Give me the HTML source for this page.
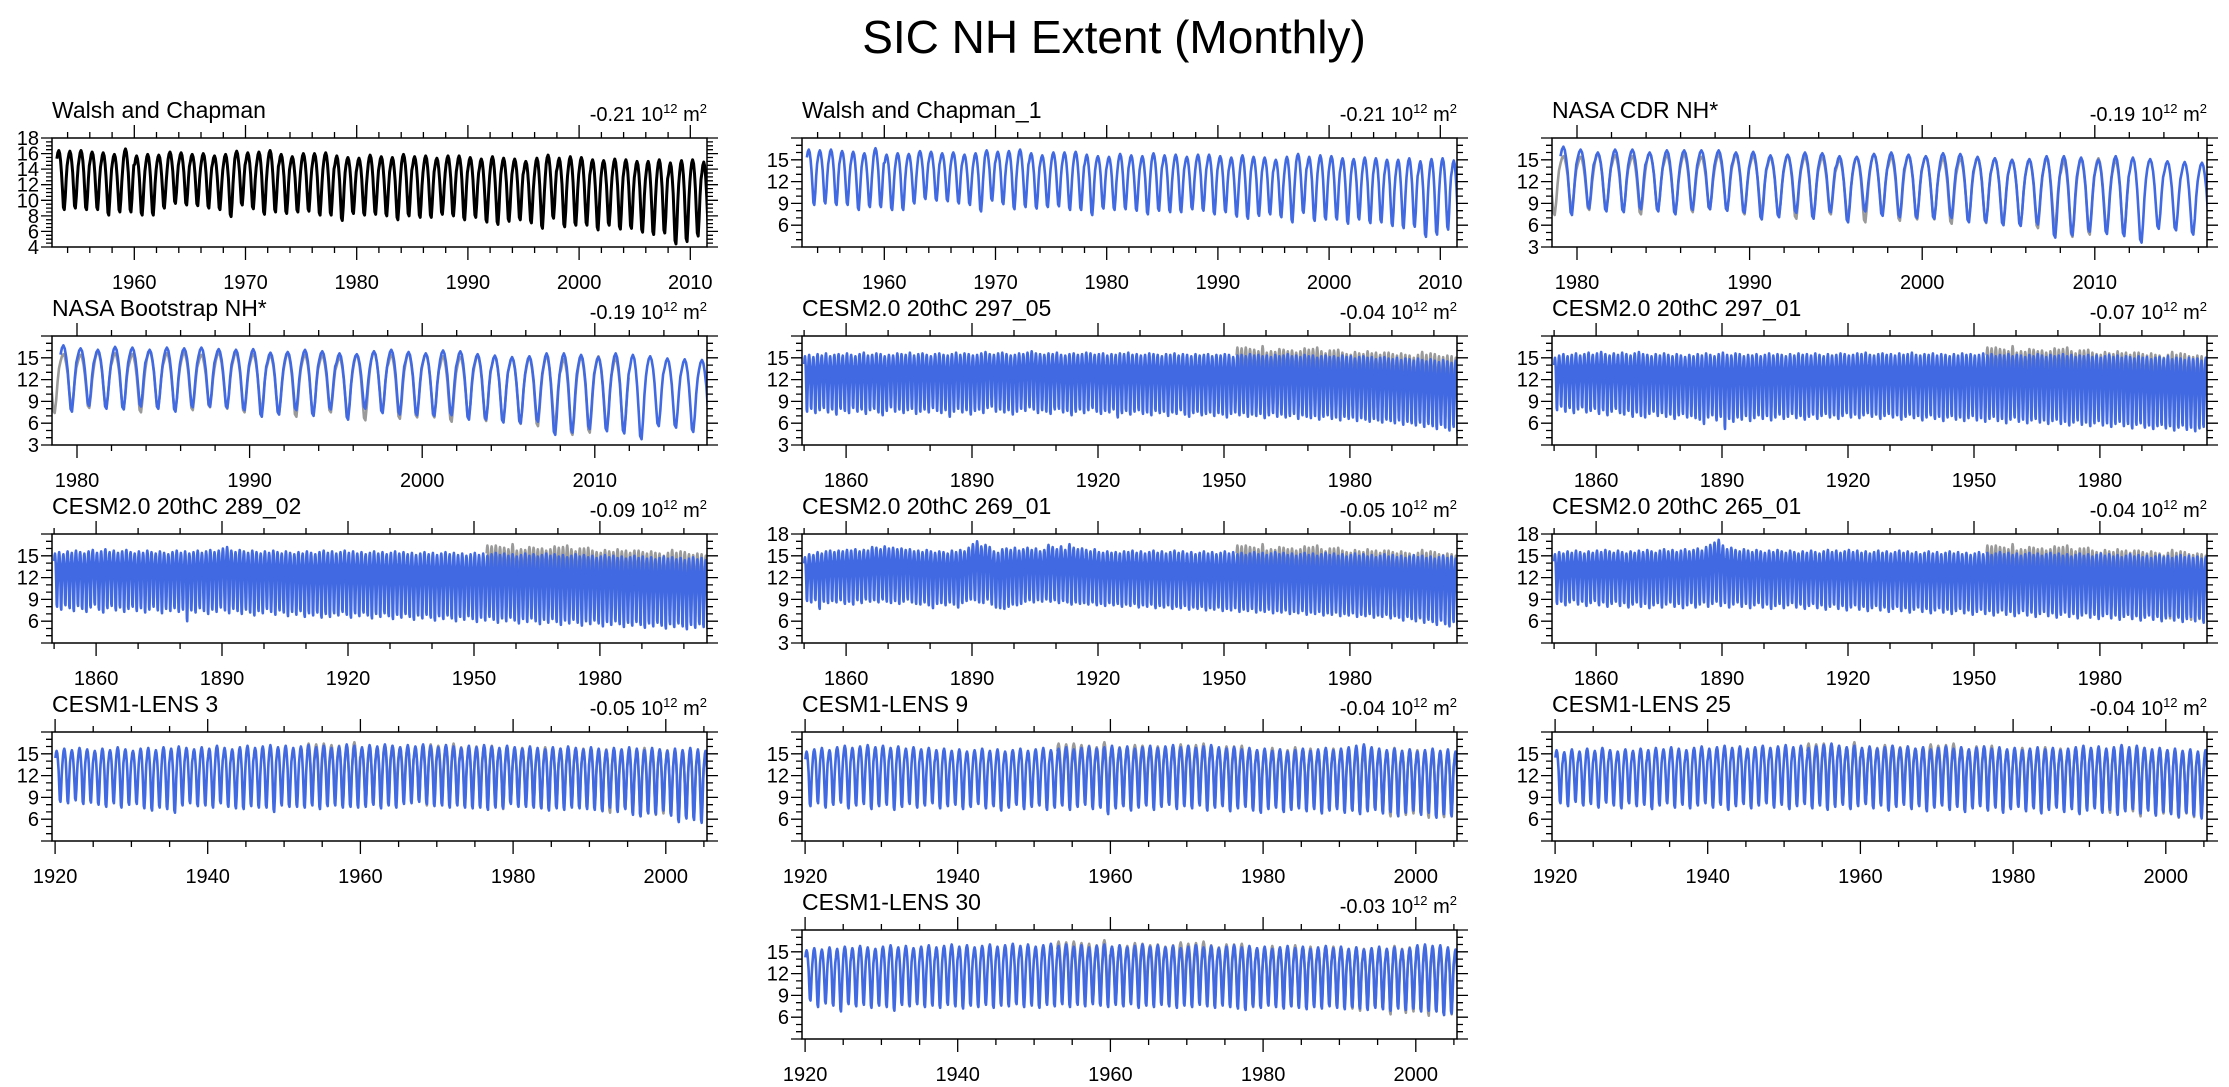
<!DOCTYPE html>
<html><head><meta charset="utf-8">
<style>
html,body{margin:0;padding:0;background:#fff;}
svg{display:block;font-family:"Liberation Sans",Arial,sans-serif;}
</style></head>
<body>
<svg id="fig" width="2229" height="1087" viewBox="0 0 2229 1087">
<text x="1114" y="53" text-anchor="middle" font-size="46">SIC NH Extent (Monthly)</text>
</svg>
<script>
// seasonal cycle fraction (Jan..Dec) between annual minimum and maximum
const seasonShape = [0.86,0.96,1.0,0.95,0.82,0.62,0.33,0.04,0.0,0.22,0.52,0.74];

const walshMax = [16.4,16.3,16.4,16.2,16.1,15.9,16.6,15.7,15.9,15.8,16.2,16.1,15.9,16,15.7,15.9,16.3,16.1,16.2,16.4,15.9,15.6,16,16,16.1,15.7,15.5,15.4,15.8,15.6,15.5,15.9,15.6,15.7,15.4,15.7,15.7,15.5,15.3,15.6,15.4,15.3,15,15.4,15.8,15.4,15.6,15.5,15.2,15.1,15.3,15.2,15,15,15.2,14.8,15.1,15.2,14.9];
const walshMin = [8.8,9,8.8,8.8,8.1,8.5,8.5,8.1,8.1,9,9.6,9.4,9.3,9,8.8,7.9,9.4,8.9,8.2,8.5,8.3,8.5,8.6,8.1,8.1,7.4,8.3,8.1,8.2,8,7.5,8,7.8,7.8,8.2,8,7.5,7.8,7.2,6.9,7.3,7.5,7.1,6.4,7.7,6.6,6.8,6.8,6.2,6.8,6.3,6.4,5.9,5.6,5.8,4.4,4.7,5.4,4.8];

const cdrMax = [16.8,16.4,16,16.4,16.4,16,16.3,16.3,16.3,16.3,16,16.1,15.6,15.7,16,15.9,15.5,15.4,15.8,16,15.7,15.5,15.9,15.8,15.4,15.2,15,15.1,15.5,15.5,15.3,15,15.5,15.3,15.1,14.8,14.7,14.6];
const cdrMin = [7.4,8.3,7.9,7.8,8.2,7.9,7.5,8.1,8.2,8,7.7,6.8,7.1,7.7,6.9,7.8,6.4,7.9,7.3,7.1,7,6.9,7,6.4,6.4,6,5.9,6.1,4.3,4.6,5.1,4.8,4.5,3.6,5.5,5.3,4.7,5.2];
const bootMax = [16.7,16.3,16.1,16.5,16.4,16.1,16.4,16.3,16.4,16.2,16.1,16.2,15.7,15.8,16.1,15.9,15.6,15.5,15.9,16.1,15.8,15.6,16,15.9,15.5,15.3,15.1,15.2,15.6,15.6,15.4,15.1,15.6,15.4,15.2,14.9,14.8,14.7];
const bootMin = [7.6,8.4,8,7.9,8.3,8,7.6,8.2,8.3,8.1,7.8,6.9,7.2,7.8,7,7.9,6.5,8,7.4,7.2,7.1,7,7.1,6.5,6.5,6.1,6,6.2,4.4,4.7,5.2,4.9,4.6,3.8,5.6,5.4,4.8,5.3];

const c29705Max = [15.2,15.4,15.1,15.5,15.3,15.6,15.2,15.4,15.5,15.3,15.6,15.4,15.2,15.5,15.7,15.3,15.4,15.6,15.5,15.2,15.4,15.3,15.6,15.5,15.4,15.7,15.3,15.5,15.6,15.4,15.2,15.5,15.6,15.4,15.3,15.5,15.7,15.4,15.6,15.5,15.3,15.4,15.6,15.8,15.5,15.4,15.6,15.7,15.5,15.3,15.4,15.6,15.5,15.7,15.9,15.6,15.5,15.4,15.6,15.5,15.7,15.4,15.3,15.5,15.6,15.4,15.5,15.7,15.6,15.4,15.5,15.6,15.3,15.5,15.4,15.6,15.5,15.7,15.4,15.5,15.3,15.4,15.6,15.5,15.4,15.2,15.5,15.4,15.6,15.3,15.5,15.4,15.2,15.5,15.3,15.4,15.5,15.2,15.4,15.3,15.5,15.4,15.1,15.3,15.4,15.2,15.5,15.3,15.4,15.2,15.3,15.1,15.4,15.2,15.3,15.5,15.2,15.3,15.1,15.4,15.2,15.3,15.0,15.2,15.3,15.1,15.2,15.0,15.3,15.1,15.2,14.9,15.1,15.2,15.0,15.1,14.8,15.0,15.1,14.9,14.8,15.0,14.7,14.9,14.8,14.6,14.9,14.7,14.5,14.8,14.6,14.4,14.7,14.5,14.3,14.6];
const c29705Min = [7.6,8.0,7.4,7.8,8.1,7.5,7.9,7.2,8.0,7.7,7.4,8.1,7.6,7.9,7.3,7.8,8.0,7.5,7.1,7.7,8.2,7.6,7.9,7.4,7.8,8.0,7.3,7.6,7.9,7.5,8.1,7.7,7.4,7.8,6.9,7.6,8.0,7.5,7.8,7.2,7.7,7.9,7.4,8.1,8.3,7.6,7.9,7.5,7.8,7.2,7.6,8.0,7.7,8.2,7.9,7.4,7.8,7.6,7.3,7.9,8.0,7.5,7.7,7.1,7.6,7.9,7.4,7.8,8.1,7.6,7.3,7.7,7.5,7.9,6.8,7.4,7.7,7.2,7.6,7.8,7.3,7.5,7.1,7.7,7.4,7.6,7.0,7.5,7.3,7.8,7.2,6.9,7.4,7.6,7.1,7.3,7.5,7.0,7.4,7.2,6.8,7.3,7.5,7.1,7.4,6.9,7.2,7.0,7.3,6.7,7.1,7.4,6.9,7.2,6.8,7.0,7.3,6.6,7.1,6.9,6.7,7.0,6.5,6.9,7.1,6.6,6.8,6.4,6.9,6.6,6.8,6.3,6.7,6.5,6.2,6.6,6.4,6.1,6.5,6.3,6.0,6.4,5.8,6.2,6.0,5.7,6.1,5.5,5.9,5.6,5.2,5.8,5.4,5.0,5.5,4.3];

const c29701Max = [15.0,15.3,15.5,15.2,15.4,15.6,15.3,15.5,15.7,15.4,15.6,15.8,15.5,15.3,15.6,15.4,15.7,15.5,15.3,15.6,15.8,15.5,15.4,15.2,15.5,15.3,15.6,15.4,15.2,15.5,15.3,15.1,15.4,15.2,15.5,15.3,15.6,15.4,15.2,15.5,15.7,15.4,15.3,15.6,15.5,15.2,15.4,15.3,15.5,15.2,15.4,15.6,15.3,15.5,15.4,15.2,15.5,15.3,15.6,15.4,15.5,15.3,15.6,15.4,15.2,15.5,15.3,15.4,15.6,15.5,15.3,15.4,15.6,15.5,15.7,15.4,15.3,15.5,15.6,15.4,15.5,15.3,15.6,15.4,15.5,15.7,15.4,15.3,15.5,15.4,15.6,15.3,15.5,15.4,15.2,15.5,15.3,15.6,15.4,15.5,15.3,15.4,15.6,15.3,15.5,15.2,15.4,15.3,15.5,15.2,15.4,15.3,15.1,15.4,15.2,15.5,15.3,15.1,15.4,15.2,15.3,15.5,15.2,15.4,15.1,15.3,15.2,15.4,15.1,15.3,15.0,15.2,15.4,15.1,15.3,15.0,15.2,15.1,14.9,15.2,15.0,15.1,14.8,15.0,15.1,14.9,15.2,14.8,15.0,14.9,14.7,15.0,14.8,14.9,14.6,15.0];
const c29701Min = [7.8,8.3,7.6,8.1,7.4,7.9,8.2,7.5,7.7,8.0,7.3,7.8,7.1,7.6,8.0,7.4,7.2,7.7,6.9,7.5,7.0,6.8,7.3,7.6,7.0,7.4,6.9,7.2,6.6,7.1,7.3,6.8,7.0,6.7,6.5,5.9,6.8,7.1,6.4,6.9,5.2,6.6,6.2,6.8,6.5,7.0,6.3,6.7,7.1,6.6,7.0,6.4,6.8,7.2,6.6,6.9,7.3,6.7,7.0,6.5,6.9,7.2,6.6,7.0,7.3,6.8,7.1,6.6,7.0,7.4,6.8,7.2,6.7,7.1,7.4,6.9,7.2,6.6,7.0,7.3,6.8,7.1,6.5,6.9,7.2,6.7,7.0,6.4,6.8,7.1,6.6,6.9,6.3,6.8,7.0,6.5,6.8,6.3,6.7,7.0,6.4,6.7,6.2,6.6,6.9,6.3,6.6,6.0,6.5,6.8,6.2,6.5,6.0,6.4,6.6,6.1,6.4,5.9,6.3,6.5,5.9,6.2,5.7,6.1,6.4,5.8,6.1,5.6,6.0,6.3,5.7,6.0,5.5,5.9,6.2,5.6,5.9,5.3,5.8,6.0,5.4,5.7,5.2,5.6,5.8,5.3,5.6,5.0,5.4,5.7,5.1,5.4,4.9,5.3,5.5,4.8];

const c28902Max = [15.3,15.5,15.2,15.6,15.4,15.7,15.5,15.3,15.6,15.8,15.4,15.6,15.9,15.5,15.7,15.4,15.6,15.8,15.5,15.3,15.6,15.4,15.7,15.5,15.3,15.6,15.4,15.2,15.5,15.7,15.4,15.6,15.3,15.5,15.7,15.4,15.6,15.8,15.5,15.7,16.0,16.2,15.7,15.5,15.8,15.6,15.4,15.7,15.5,15.3,15.6,15.4,15.7,15.5,15.3,15.6,15.4,15.2,15.5,15.3,15.6,15.4,15.2,15.5,15.7,15.4,15.6,15.3,15.5,15.7,15.4,15.6,15.3,15.5,15.2,15.4,15.6,15.3,15.5,15.2,15.4,15.6,15.3,15.5,15.2,15.4,15.1,15.3,15.5,15.2,15.4,15.1,15.3,15.5,15.2,15.4,15.1,15.3,15.0,15.2,15.4,15.1,15.3,15.0,15.2,15.4,15.1,15.3,15.0,15.2,14.9,15.1,15.3,15.0,15.2,14.9,15.1,15.3,15.0,15.2,14.9,15.1,14.8,15.0,15.2,14.9,15.1,14.8,15.0,14.7,14.9,15.1,14.8,15.0,14.7,14.9,14.6,14.8,15.0,14.7,14.9,14.6,14.8,14.5,14.7,14.9,14.6,14.8,14.5,14.7,14.4,14.6,14.8,14.5,14.7,14.4];
const c28902Min = [8.0,7.6,8.2,7.8,7.4,8.1,7.7,7.3,7.9,8.3,7.6,7.2,7.8,8.1,7.5,7.9,7.3,7.7,8.0,7.4,7.8,7.2,7.6,8.0,7.5,7.1,7.7,7.4,7.8,7.3,7.6,6.0,7.5,7.2,7.8,7.4,7.0,7.6,7.3,7.9,7.5,7.1,7.7,7.4,7.0,7.6,7.2,6.8,7.4,7.1,7.7,7.3,6.9,7.5,7.2,6.7,7.3,6.9,7.4,6.6,7.1,6.8,7.2,6.5,7.0,6.6,7.1,6.8,7.3,6.9,6.5,7.1,6.7,7.2,6.8,6.4,7.0,6.6,7.1,6.7,6.3,6.9,6.5,7.0,6.6,6.2,6.8,6.4,6.9,6.5,6.1,6.7,6.3,6.8,6.4,6.0,6.6,6.2,6.7,6.3,5.9,6.5,6.1,6.6,6.2,5.8,6.4,6.0,6.5,6.1,5.7,6.3,5.9,6.4,6.0,5.6,6.2,5.8,6.3,5.9,5.5,6.1,5.7,6.2,5.8,5.4,6.0,5.6,6.1,5.7,5.3,5.9,5.5,6.0,5.6,5.2,5.8,5.4,5.9,5.5,5.1,5.7,5.3,5.8,5.4,5.0,5.6,5.2,5.7,5.3,4.9,5.5,5.1,5.6,5.2,4.8];

const c26901Max = [14.8,15.2,15.1,15.5,15.3,15.6,15.7,15.5,15.7,15.6,15.8,15.7,15.9,15.6,15.8,15.7,16.2,16.1,15.9,16.3,16.0,16.1,15.9,16.0,15.8,15.9,15.6,15.7,15.5,15.8,15.6,15.4,15.6,15.5,15.3,15.7,15.5,15.8,15.6,16.1,16.6,17.0,16.3,16.5,16.2,15.6,15.4,15.9,16.0,15.8,16.1,15.7,15.9,16.1,15.8,16.0,15.6,15.8,16.5,16.2,15.9,16.3,15.8,16.6,16.1,15.9,16.0,15.8,15.6,15.9,15.5,15.4,15.6,15.4,15.5,15.3,15.6,15.5,15.7,15.4,15.6,15.3,15.5,15.7,15.4,15.6,15.3,15.5,15.7,15.4,15.6,15.3,15.5,15.2,15.4,15.6,15.3,15.5,15.2,15.4,15.6,15.3,15.5,15.2,15.4,15.1,15.3,15.5,15.2,15.4,15.1,15.3,15.5,15.2,15.4,15.1,15.3,15.0,15.2,15.4,15.1,15.3,15.0,15.2,15.4,15.1,15.3,15.0,15.2,14.9,15.1,15.3,15.0,15.2,14.9,15.1,14.8,15.0,15.2,14.9,15.1,14.8,15.0,14.7,14.9,15.1,14.8,15.0,14.7,14.9,14.6,14.8,15.0,14.7,14.9,14.6];
const c26901Min = [8.8,8.6,8.9,7.7,8.7,8.5,8.8,8.6,8.9,8.4,8.7,8.3,8.9,8.5,9.0,8.7,8.9,8.6,9.0,8.7,8.5,8.8,8.4,8.7,9.0,8.6,8.4,8.3,8.6,8.2,7.8,8.4,8.5,8.2,8.6,8.3,7.9,8.5,8.8,9.0,8.9,8.6,8.5,9.0,8.3,7.9,7.8,7.7,8.0,8.3,8.2,8.4,8.7,8.9,8.6,8.9,8.7,9.0,8.7,8.9,8.5,8.8,8.6,8.3,8.6,8.4,8.5,8.3,8.6,8.2,8.4,8.1,8.5,8.2,8.4,8.0,8.3,8.1,8.4,7.9,8.2,8.0,8.3,7.8,8.1,7.9,8.2,7.7,8.0,7.8,8.1,7.6,7.9,7.7,8.0,7.5,7.8,7.6,7.9,7.4,7.7,7.5,7.8,7.3,7.6,7.4,7.7,7.2,7.5,7.3,7.6,7.1,7.4,7.2,7.5,7.0,7.3,7.1,7.4,6.9,7.2,7.0,7.3,6.8,7.1,6.9,7.2,6.7,7.0,6.8,7.1,6.6,6.9,6.7,7.0,6.5,6.8,6.6,6.9,6.4,6.7,6.5,6.1,6.6,6.3,6.0,6.5,5.8,6.2,5.9,5.5,6.1,5.6,5.3,5.9,5.2];

const c26501Max = [15.2,15.5,15.3,15.6,15.4,15.7,15.5,15.3,15.6,15.4,15.7,15.5,15.8,15.6,15.4,15.7,15.5,15.3,15.6,15.4,15.7,15.5,15.8,15.6,15.4,15.7,15.9,15.6,15.8,15.5,15.7,15.9,15.6,15.8,16.0,15.7,16.2,16.5,16.8,17.2,16.4,15.9,16.1,15.8,15.6,15.9,15.7,15.5,15.8,15.6,15.4,15.7,15.5,15.8,15.6,15.4,15.7,15.5,15.3,15.6,15.4,15.7,15.5,15.3,15.6,15.8,15.5,15.7,15.4,15.6,15.8,15.5,15.7,15.4,15.6,15.3,15.5,15.7,15.4,15.6,15.3,15.5,15.7,15.4,15.6,15.3,15.5,15.2,15.4,15.6,15.3,15.5,15.2,15.4,15.6,15.3,15.5,15.2,15.4,15.1,15.3,15.5,15.2,15.4,15.1,15.3,15.5,15.2,15.4,15.1,15.3,15.0,15.2,15.4,15.1,15.3,15.0,15.2,15.4,15.1,15.3,15.0,15.2,14.9,15.1,15.3,15.0,15.2,14.9,15.1,15.3,15.0,15.2,14.9,15.1,14.8,15.0,15.2,14.9,15.1,14.8,15.0,14.7,14.9,15.1,14.8,15.0,14.7,14.9,15.1,14.8,15.0,14.7,14.9,14.6,14.8];
const c26501Min = [8.4,8.7,8.2,8.6,8.9,8.3,8.7,8.1,8.5,8.8,8.2,8.6,8.0,8.4,8.7,8.1,8.5,7.9,8.3,8.6,8.0,8.4,7.8,8.2,8.5,7.9,8.3,8.6,8.0,8.4,7.8,8.2,8.5,7.9,8.3,8.6,8.0,8.4,8.7,8.1,8.5,7.9,8.3,8.6,8.0,8.4,7.8,8.2,8.5,7.9,8.3,7.7,8.1,8.4,7.8,8.2,8.5,7.9,8.3,7.7,8.1,8.4,7.8,8.2,7.6,8.0,8.3,7.7,8.1,7.5,7.9,8.2,7.6,8.0,7.4,7.8,8.1,7.5,7.9,7.3,7.7,8.0,7.4,7.8,7.2,7.6,7.9,7.3,7.7,7.1,7.5,7.8,7.2,7.6,7.0,7.4,7.7,7.1,7.5,6.9,7.3,7.6,7.0,7.4,6.8,7.2,7.5,6.9,7.3,6.7,7.1,7.4,6.8,7.2,6.6,7.0,7.3,6.7,7.1,6.5,6.9,7.2,6.6,7.0,6.4,6.8,7.1,6.5,6.9,6.3,6.7,7.0,6.4,6.8,6.2,6.6,6.9,6.3,6.7,6.1,6.5,6.8,6.2,6.6,6.0,6.4,6.7,6.1,6.5,5.9,6.3,6.6,6.0,6.4,5.8,6.2];

const lens3Max = [15.4,15.7,15.5,15.8,15.6,15.4,15.7,15.5,15.9,15.6,15.4,15.7,15.8,15.5,15.9,15.7,16.0,15.8,15.6,15.9,15.7,16.1,15.8,15.6,15.9,16.1,15.8,16.0,16.2,15.9,16.1,15.8,16.0,16.2,15.9,16.1,15.8,16.0,16.3,16.1,15.9,16.2,16.0,16.3,16.1,15.9,16.2,16.0,16.3,16.1,15.9,16.2,16.0,15.8,16.1,15.9,16.2,16.0,15.8,16.1,15.9,15.7,16.0,15.8,15.6,15.9,15.7,16.0,15.8,15.6,15.9,15.7,15.5,15.8,15.6,15.9,15.7,15.5,15.8,15.6,15.4,15.7,15.5,15.8,15.6,15.4];
const lens3Min = [8.4,8.2,8.6,8.1,8.3,8.0,7.7,8.2,7.6,8.0,8.1,7.5,7.2,7.6,7.4,6.9,7.9,8.2,7.8,7.9,7.6,8.2,7.7,7.5,7.4,7.8,7.6,7.6,7.0,7.9,7.7,7.7,7.6,7.9,7.4,7.8,7.9,7.6,7.7,7.6,7.7,8.0,7.5,7.9,7.6,8.1,8.2,8.4,8.1,7.8,7.9,7.6,7.9,7.6,7.5,7.6,7.3,7.6,7.5,8.1,7.7,7.7,7.6,7.5,7.2,7.5,7.3,7.6,7.5,7.4,7.3,7.1,7.6,7.0,7.4,6.6,6.4,6.8,6.7,7.2,6.5,5.6,6.1,5.9,5.5,5.8];
const lens9Max = [15.3,15.6,15.8,15.5,15.9,16.1,15.8,16.0,16.2,15.9,16.1,15.8,16.0,15.7,15.9,15.6,15.8,15.5,15.7,15.4,15.6,15.3,15.5,15.7,15.4,15.6,15.3,15.5,15.7,15.4,15.6,15.8,15.5,15.7,15.9,15.6,15.8,16.0,15.7,15.9,16.1,15.8,16.0,15.7,15.9,16.1,15.8,16.0,16.2,15.9,16.1,15.8,16.0,16.2,15.9,15.7,15.9,15.6,15.8,15.5,15.7,15.4,15.6,15.3,15.5,15.7,15.4,15.6,15.8,15.5,15.7,15.9,16.1,16.3,15.9,15.7,15.5,15.7,15.4,15.6,15.3,15.5,15.7,15.4,15.6,15.3];
const lens9Min = [7.8,8.2,7.6,8.0,8.3,7.5,7.9,8.1,7.4,7.8,8.0,7.3,7.7,8.1,7.6,7.9,8.2,7.5,7.8,8.0,7.4,7.7,8.1,7.5,7.8,7.2,7.6,8.0,7.4,7.7,7.9,7.3,7.6,7.9,7.3,7.7,8.0,7.4,7.6,6.7,7.5,7.8,7.2,7.6,7.9,7.3,7.7,8.0,7.4,7.8,7.5,7.9,7.2,7.6,7.8,7.1,7.5,7.7,7.2,6.9,7.4,7.6,7.0,7.3,7.5,7.1,7.4,6.8,7.2,7.4,6.9,7.2,6.7,7.1,7.3,6.8,7.0,6.4,6.9,7.2,6.6,6.9,6.2,6.7,6.4,6.0];
const lens25Max = [15.5,15.2,15.6,15.3,15.7,15.4,15.8,15.5,15.3,15.6,15.4,15.7,15.5,15.8,15.6,15.9,15.7,15.5,15.8,16.0,15.7,15.9,16.1,15.8,16.0,15.7,15.9,16.1,15.8,16.0,16.2,15.9,16.1,15.8,16.0,16.2,16.4,16.1,15.9,16.1,15.8,16.0,15.7,15.9,16.1,15.8,16.0,15.7,15.9,15.6,15.8,16.0,15.7,15.9,15.6,15.8,16.0,15.7,15.9,15.6,15.8,15.5,15.7,15.9,15.6,15.8,15.5,15.7,15.9,16.1,15.8,16.0,15.7,15.9,16.2,15.9,16.1,15.8,15.6,15.8,15.5,15.7,15.4,15.6,15.3,15.5];
const lens25Min = [8.2,7.8,8.4,7.9,8.1,7.6,8.3,7.9,7.5,8.2,7.8,8.0,7.4,7.9,8.2,7.6,8.0,7.5,7.9,8.2,7.6,8.0,7.3,7.8,8.1,7.5,7.9,8.2,7.6,8.0,7.4,7.8,8.1,7.5,7.9,7.3,7.7,8.0,7.4,7.8,8.1,7.5,7.9,7.2,7.7,8.0,7.4,7.8,7.1,7.6,7.9,7.3,7.7,7.0,7.5,7.8,7.2,7.6,6.9,7.4,7.7,7.1,7.5,6.8,7.3,7.6,7.0,7.4,6.7,7.2,7.5,6.9,7.3,6.6,7.1,7.4,6.8,7.2,6.5,7.0,6.7,6.3,6.9,6.5,6.1,6.7];
const lens30Max = [15.2,15.5,15.3,15.6,15.4,15.7,15.5,15.8,15.6,15.4,15.7,15.9,15.6,15.8,15.5,15.7,15.9,15.6,15.8,16.0,15.7,15.9,15.6,15.8,16.0,15.7,15.9,16.1,15.8,16.0,15.7,15.9,16.1,15.8,16.0,15.7,15.9,15.6,15.8,16.0,15.7,15.9,15.6,15.8,16.0,15.7,15.9,15.6,15.8,15.5,15.7,15.9,15.6,15.8,15.5,15.7,15.9,15.6,15.8,15.5,15.7,15.4,15.6,15.8,15.5,15.7,15.4,15.6,15.8,15.5,15.7,15.4,15.6,15.3,15.5,15.7,15.4,15.6,15.3,15.5,15.9,16.0,15.8,15.9,15.6,15.3];
const lens30Min = [8.3,7.4,7.9,7.6,6.8,7.8,7.5,7.7,7.3,7.6,7.4,6.9,7.7,7.5,7.8,7.4,7.6,7.3,7.7,7.5,7.2,7.6,7.4,7.7,7.3,7.6,7.5,7.8,7.4,7.6,7.3,7.7,7.5,7.8,7.4,7.7,7.5,7.8,7.6,7.4,7.7,7.5,7.8,7.3,7.6,7.4,7.7,7.5,7.3,7.6,7.4,7.7,7.5,7.3,7.6,7.4,7.2,7.0,7.5,7.3,7.6,7.4,7.2,7.5,7.3,7.1,7.4,7.2,7.5,7.3,7.1,7.4,7.2,7.0,7.3,7.1,6.9,7.2,7.0,7.2,6.8,6.9,6.8,6.3,6.5,6.7];

const panelTitles = ["Walsh and Chapman","Walsh and Chapman_1","NASA CDR NH*","NASA Bootstrap NH*","CESM2.0 20thC 297_05","CESM2.0 20thC 297_01","CESM2.0 20thC 289_02","CESM2.0 20thC 269_01","CESM2.0 20thC 265_01","CESM1-LENS 3","CESM1-LENS 9","CESM1-LENS 25","CESM1-LENS 30"];
const trendLabels = ["-0.21","-0.21","-0.19","-0.19","-0.04","-0.07","-0.09","-0.05","-0.04","-0.05","-0.04","-0.04","-0.03"];
const seriesMax = [walshMax,walshMax,cdrMax,bootMax,c29705Max,c29701Max,c28902Max,c26901Max,c26501Max,lens3Max,lens9Max,lens25Max,lens30Max];
const seriesMin = [walshMin,walshMin,cdrMin,bootMin,c29705Min,c29701Min,c28902Min,c26901Min,c26501Min,lens3Min,lens9Min,lens25Min,lens30Min];
const startYears = [1953,1953,1979,1979,1850,1850,1850,1850,1850,1920,1920,1920,1920];
const yLabelSets = [[4,6,8,10,12,14,16,18],[6,9,12,15],[3,6,9,12,15],[3,6,9,12,15],[3,6,9,12,15],[6,9,12,15],[6,9,12,15],[3,6,9,12,15,18],[6,9,12,15,18],[6,9,12,15],[6,9,12,15],[6,9,12,15],[6,9,12,15]];

// layout (not data)
const L = [
 {c:0,r:0,x0:1952.6,x1:2011.5,y0:4,y1:18,maj:10,min:2,ymin:0.5,ymaj:2,col:'#000',gray:false},
 {c:1,r:0,x0:1952.6,x1:2011.5,y0:3,y1:18,maj:10,min:2,ymin:1,ymaj:3,col:'#4169e1',gray:false},
 {c:2,r:0,x0:1978.55,x1:2016.5,y0:3,y1:18,maj:10,min:2,ymin:1,ymaj:3,col:'#4169e1',gray:true},
 {c:0,r:1,x0:1978.55,x1:2016.5,y0:3,y1:18,maj:10,min:2,ymin:1,ymaj:3,col:'#4169e1',gray:true},
 {c:1,r:1,x0:1849.5,x1:2005.5,y0:3,y1:18,maj:30,min:10,ymin:1,ymaj:3,col:'#4169e1',gray:true},
 {c:2,r:1,x0:1849.5,x1:2005.5,y0:3,y1:18,maj:30,min:10,ymin:1,ymaj:3,col:'#4169e1',gray:true},
 {c:0,r:2,x0:1849.5,x1:2005.5,y0:3,y1:18,maj:30,min:10,ymin:1,ymaj:3,col:'#4169e1',gray:true},
 {c:1,r:2,x0:1849.5,x1:2005.5,y0:3,y1:18,maj:30,min:10,ymin:1,ymaj:3,col:'#4169e1',gray:true},
 {c:2,r:2,x0:1849.5,x1:2005.5,y0:3,y1:18,maj:30,min:10,ymin:1,ymaj:3,col:'#4169e1',gray:true},
 {c:0,r:3,x0:1919.6,x1:2005.4,y0:3,y1:18,maj:20,min:5,ymin:1,ymaj:3,col:'#4169e1',gray:true},
 {c:1,r:3,x0:1919.6,x1:2005.4,y0:3,y1:18,maj:20,min:5,ymin:1,ymaj:3,col:'#4169e1',gray:true},
 {c:2,r:3,x0:1919.6,x1:2005.4,y0:3,y1:18,maj:20,min:5,ymin:1,ymaj:3,col:'#4169e1',gray:true},
 {c:1,r:4,x0:1919.6,x1:2005.4,y0:3,y1:18,maj:20,min:5,ymin:1,ymaj:3,col:'#4169e1',gray:true}
];
const colX=[52,802,1552], rowY=[138,336,534,732,930], PW=655, PH=109;
const NS='http://www.w3.org/2000/svg';
const fig=document.getElementById('fig');
function mk(tag,attrs,parent){const e=document.createElementNS(NS,tag);for(const k in attrs)e.setAttribute(k,attrs[k]);parent.appendChild(e);return e;}

function seriesPath(maxArr,minArr,start,sx,sy,from,to){
  let d='';
  for(let i=0;i<maxArr.length;i++){
    const yr=start+i; if(yr<from||yr>to) continue;
    for(let m=0;m<12;m++){
      const v=minArr[i]+(maxArr[i]-minArr[i])*seasonShape[m];
      d+=(d?'L':'M')+sx(yr+(m+0.5)/12).toFixed(1)+','+sy(v).toFixed(1);
    }
  }
  return d;
}

L.forEach((p,k)=>{
  const X=colX[p.c], Y=rowY[p.r];
  const g=mk('g',{},fig);
  
  
  const sx=v=>X+(v-p.x0)/(p.x1-p.x0)*PW;
  const sy=v=>Y+PH-(v-p.y0)/(p.y1-p.y0)*PH;
  const cid='clip'+k;
  const cp=mk('clipPath',{id:cid},g); mk('rect',{x:X,y:Y,width:PW,height:PH},cp);
  const data=mk('g',{'clip-path':'url(#'+cid+')'},g);
  if(p.gray){
    const gp=mk('path',{d:seriesPath(walshMax,walshMin,1953,sx,sy,Math.ceil(p.x0)-1,2011),fill:'none',stroke:'#9a9a9a','stroke-width':2.6,'stroke-linejoin':'round'},data);
    
    
  }
  const bp=mk('path',{d:seriesPath(seriesMax[k],seriesMin[k],startYears[k],sx,sy,-1e9,1e9),fill:'none',stroke:p.col,'stroke-width':p.col==='#000'?3:2.6,'stroke-linejoin':'round'},data);
  
  
  const fr=mk('rect',{x:X,y:Y,width:PW,height:PH,fill:'none',stroke:'#000','stroke-width':1.5},g);
  
  
  let tk='';
  const first=Math.ceil(p.x0/p.min)*p.min;
  for(let t=first;t<=p.x1+1e-6;t+=p.min){
    const x=sx(t).toFixed(1); const major=Math.abs(t/p.maj-Math.round(t/p.maj))<1e-6; const len=major?13:6;
    tk+=`M${x},${Y+PH}v${len}M${x},${Y}v${-len}`;
    if(major){
      const tl=mk('text',{x:x,y:Y+PH+42,'text-anchor':'middle','font-size':20},g); tl.textContent=t;
      
      
    }
  }
  const labs=yLabelSets[k];
  for(let v=Math.ceil(p.y0/p.ymin)*p.ymin;v<=p.y1+1e-6;v+=p.ymin){
    const y=sy(v).toFixed(1); const major=Math.abs(v/p.ymaj-Math.round(v/p.ymaj))<1e-6; const len=major?11:6;
    tk+=`M${X},${y}h${-len}M${X+PW},${y}h${len}`;
  }
  labs.forEach(v=>{
    const tl=mk('text',{x:X-13,y:sy(v)+7,'text-anchor':'end','font-size':20},g); tl.textContent=v;
    
    
  });
  const tp=mk('path',{d:tk,stroke:'#000','stroke-width':1.3,fill:'none'},g);
  
  
  const tt=mk('text',{x:X,y:Y-20,'font-size':23},g); tt.textContent=panelTitles[k];
  
  
  const rs=mk('text',{x:X+PW,y:Y-17,'text-anchor':'end','font-size':20},g);
  
  
  rs.innerHTML=trendLabels[k]+' 10<tspan dy="-8" font-size="13">12</tspan><tspan dy="8"> m</tspan><tspan dy="-8" font-size="13">2</tspan>';
});
</script>
</body></html>
